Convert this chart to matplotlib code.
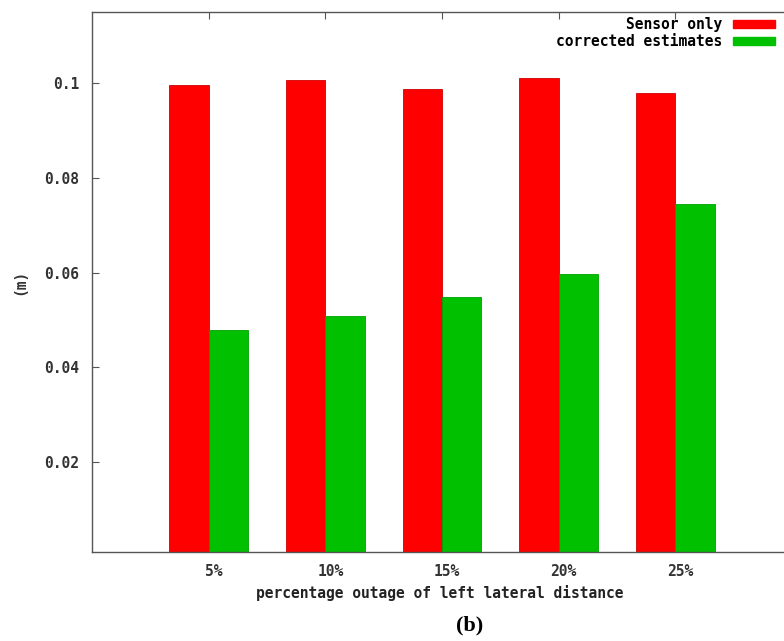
import matplotlib
matplotlib.use("Agg")
import matplotlib.pyplot as plt
import matplotlib.transforms as mtransforms
from matplotlib.patches import Patch
import numpy as np

# error per outage level (m)
outage = ["5%", "10%", "15%", "20%", "25%"]
sensor_only = [0.0996, 0.1006, 0.0987, 0.1010, 0.0980]
corrected = [0.0478, 0.0509, 0.0549, 0.0597, 0.0745]

red = "#ff0000"
green = "#00c000"
axis_col = "#555555"
mono = "DejaVu Sans Mono"

fig = plt.figure(figsize=(7.84, 6.41), dpi=100)
# axes run a little past the right edge of the figure
ax = fig.add_axes([92 / 784, 89 / 641, 700 / 784, 540 / 641])

x = np.arange(len(outage))
w = 0.338
ax.bar(x - w / 2, sensor_only, w, color=red, edgecolor="#d00000", linewidth=0.6,
       label="Sensor only", zorder=2)
ax.bar(x + w / 2, corrected, w, color=green, edgecolor="#00a000", linewidth=0.6,
       label="corrected estimates", zorder=2)

ax.set_xlim(-1, 5)
ax.set_ylim(0.001, 0.115)
ax.set_axisbelow(True)

ax.set_xticks(x)
ax.set_xticklabels(outage)
ax.set_yticks([0.02, 0.04, 0.06, 0.08, 0.1])
ax.set_yticklabels(["0.02", "0.04", "0.06", "0.08", "0.1"])

ax.tick_params(direction="in", length=5, width=0.8, color=axis_col,
               top=True, right=True, pad=9)
shift = mtransforms.ScaledTranslation(5 / 100, 0, fig.dpi_scale_trans)
for lab in ax.get_xticklabels():
    lab.set_transform(lab.get_transform() + shift)
for lab in ax.get_xticklabels() + ax.get_yticklabels():
    lab.set_family(mono)
    lab.set_fontweight("bold")
    lab.set_fontsize(10.5)
    lab.set_color("#333333")

for s in ax.spines.values():
    s.set_color(axis_col)
    s.set_linewidth(1.0)

ax.set_ylabel("(m)", family=mono, fontweight="bold", fontsize=10.5, color="#333333")
ax.yaxis.set_label_coords(-0.092, 0.5)

fig.text(440 / 784, 1 - 593 / 641, "percentage outage of left lateral distance",
         family=mono, fontweight="bold", fontsize=10.5, color="#222222",
         ha="center", va="center")
fig.text(470 / 784, 1 - 625 / 641, "(b)", family="Liberation Serif",
         fontweight="bold", fontsize=16, ha="center", va="center")

handles = [Patch(facecolor=red, edgecolor=red), Patch(facecolor=green, edgecolor=green)]
leg = ax.legend(handles, ["Sensor only", "corrected estimates"],
                loc="upper right", bbox_to_anchor=(775 / 784, 1 - 17 / 641),
                bbox_transform=fig.transFigure, frameon=False, markerfirst=False,
                prop={"family": mono, "weight": "bold", "size": 10.5},
                handlelength=2.9, handleheight=0.5, handletextpad=0.7,
                labelspacing=0.15, borderpad=0, borderaxespad=0)

fig.savefig("out.png", dpi=100)
